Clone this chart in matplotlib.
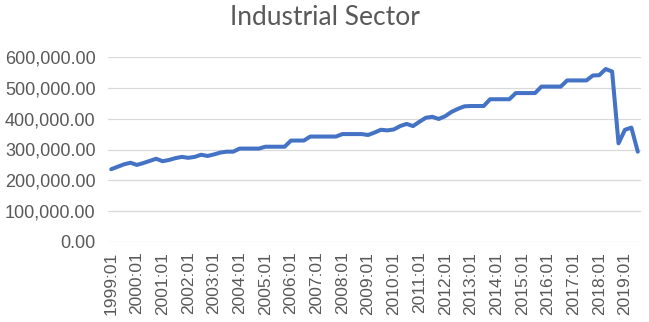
import matplotlib.pyplot as plt
from matplotlib.ticker import FuncFormatter

# quarterly output of the industrial sector, 1999:01 - 2019:03
quarters = [f"{y}:{q:02d}" for y in range(1999, 2020) for q in range(1, 5)][:83]
output = [
    236000, 244000, 252000, 257000, 250000, 256000, 263000, 270000,
    262000, 266000, 272000, 276000, 273000, 276000, 283000, 279000,
    284000, 290000, 293000, 293000, 303000, 303000, 303000, 303000,
    309000, 309000, 309000, 309000, 329000, 329000, 329000, 342000,
    342000, 342000, 342000, 342000, 350000, 350000, 350000, 350000,
    347000, 355000, 364000, 362000, 365000, 376000, 383000, 376000,
    390000, 403000, 406000, 399000, 408000, 422000, 432000, 440000,
    441000, 441000, 441000, 463000, 463000, 463000, 463000, 483000,
    483000, 483000, 483000, 504000, 504000, 504000, 504000, 524000,
    524000, 524000, 524000, 540000, 541000, 561000, 553000, 320000,
    364000, 371000, 293000,
]
y_ticks = [0, 100000, 200000, 300000, 400000, 500000, 600000]

grey = '#595959'
fig = plt.figure(figsize=(6.49, 3.22), dpi=100)
ax = fig.add_axes([108 / 649, 80 / 322, 533 / 649, 185 / 322])

x = list(range(len(output)))
ax.plot(x, output, color='#4472C4', lw=2.9, solid_joinstyle='round',
        solid_capstyle='round', zorder=3)

ax.set_ylim(0, 600000)
ax.set_xlim(-0.5, len(output) - 0.5)
ax.set_yticks(y_ticks)
ax.yaxis.set_major_formatter(FuncFormatter(lambda v, p: f"{v:,.2f}"))
ax.set_xticks(x[::4], quarters[::4], rotation=90)
ax.grid(axis='y', color='#D9D9D9', lw=0.9, zorder=0)
for s in ax.spines.values():
    s.set_visible(False)
ax.tick_params(axis='y', length=0, pad=9, labelsize=13, labelcolor=grey)
ax.tick_params(axis='x', length=0, pad=7, labelsize=12.5, labelcolor=grey)
for lab in ax.get_xticklabels() + ax.get_yticklabels():
    lab.set_family('Liberation Sans')

fig.text(0.5, 0.945, 'Industrial Sector', ha='center', va='center',
         fontsize=19, color=grey, family='Lato')

plt.savefig('out.png', dpi=100)
